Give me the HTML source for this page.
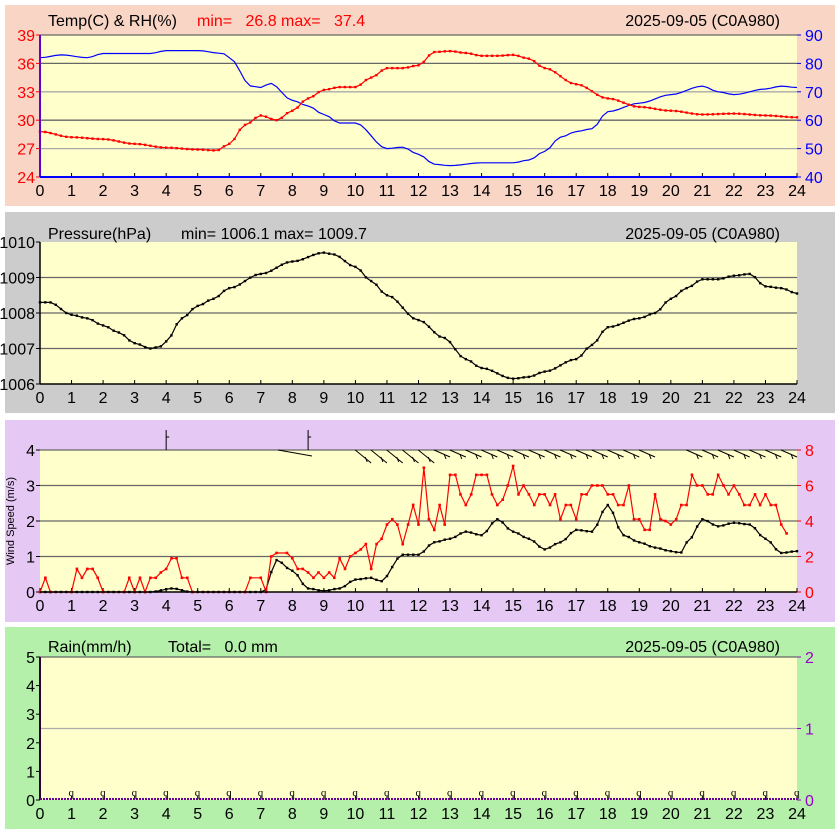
<!DOCTYPE html>
<html><head><meta charset="utf-8"><style>
body{margin:0;background:#fff;width:840px;height:835px;overflow:hidden}
svg{display:block;font-family:"Liberation Sans",sans-serif}
</style></head><body>
<svg id="s" width="840" height="835" xmlns="http://www.w3.org/2000/svg">
<rect width="840" height="835" fill="#fff"/>
<rect x="5" y="5" width="830" height="201" fill="#f9d5c5"/>
<rect x="5" y="212" width="830" height="201" fill="#cccccc"/>
<rect x="5" y="420" width="830" height="202" fill="#e6c8f5"/>
<rect x="5" y="627" width="830" height="202" fill="#b4f0aa"/>
<g id="g"></g>
</svg>
<script>
const g=document.getElementById('g');let h='';
const X0=40,X1=797,W=X1-X0;const xp=t=>X0+t*W/24;
function interp(k,t){for(let i=0;i<k.length-1;i++){if(t>=k[i][0]&&t<=k[i+1][0]){const a=k[i],b=k[i+1];const u=(t-a[0])/(b[0]-a[0]||1);const s=u*u*(3-2*u);return a[1]+(b[1]-a[1])*s;}}return k[k.length-1][1];}
function panel(top,bot,grid,leftLabels,lc,rightLabels,rc){
 h+=`<rect x="${X0}" y="${top}" width="${W}" height="${bot-top}" fill="#ffffcc"/>`;
 grid.forEach(([f,c])=>{const y=bot-(bot-top)*f;h+=`<line x1="${X0}" x2="${X1}" y1="${y}" y2="${y}" stroke="${c}" stroke-width="1.3"/>`;});
 leftLabels.forEach((l,i)=>{const y=bot-(bot-top)*i/(leftLabels.length-1);h+=`<text x="35" y="${y+6}" text-anchor="end" font-size="16" fill="${lc}">${l}</text><line x1="36" x2="40" y1="${y}" y2="${y}" stroke="${lc}"/>`;});
 if(rightLabels)rightLabels.forEach((l,i)=>{const y=bot-(bot-top)*i/(rightLabels.length-1);h+=`<text x="805" y="${y+6}" font-size="16" fill="${rc}">${l}</text><line x1="797" x2="801" y1="${y}" y2="${y}" stroke="${rc}"/>`;});
 for(let i=0;i<=24;i++){h+=`<text x="${xp(i)}" y="${bot+19}" text-anchor="middle" font-size="16" fill="#000">${i}</text><line x1="${xp(i)}" x2="${xp(i)}" y1="${bot}" y2="${bot-4}" stroke="#000"/>`;}
}
function title(y,a,ax,b,bx,bc){h+=`<text x="${ax}" y="${y}" font-size="16">${a}</text><text x="${bx}" y="${y}" font-size="16" fill="${bc}" xml:space="preserve">${b}</text><text x="780" y="${y}" text-anchor="end" font-size="16">2025-09-05 (C0A980)</text>`;}
function series(k,f,col,dots,sw){let pts=[];for(let i=0;i<=144;i++){const t=i/6;const v=interp(k,t);pts.push([xp(t),f(v)]);}
 h+=`<polyline fill="none" stroke="${col}" stroke-width="${sw||1.2}" points="${pts.map(p=>p[0].toFixed(1)+','+p[1].toFixed(1)).join(' ')}"/>`;
 if(dots)pts.forEach(p=>{h+=`<rect x="${p[0]-1.2}" y="${p[1]-1.2}" width="2.4" height="2.4" fill="${col}"/>`;});}
const DK='#666',LG='#aaa';
// panel 1
panel(35,177,[[0.2,LG],[0.4,DK],[0.6,LG],[0.8,DK],[1,DK]],[24,27,30,33,36,39],'#f00',[40,50,60,70,80,90],'#00f');
title(26,'Temp(C) &amp; RH(%)',48,'min=   26.8 max=   37.4',197,'#f00');
const T=[[0,28.8],[1,28.2],[2,28.0],[3,27.5],[4,27.1],[5,26.9],[5.6,26.8],[6,27.5],[6.5,29.5],[7,30.5],[7.5,30.0],[8,31.0],[8.5,32.3],[9,33.2],[9.5,33.5],[10,33.5],[10.5,34.5],[11,35.5],[11.5,35.5],[12,35.8],[12.5,37.2],[13,37.3],[13.5,37.1],[14,36.8],[14.5,36.8],[15,36.9],[15.5,36.5],[16,35.5],[17,33.8],[18,32.3],[19,31.4],[20,31.0],[21,30.6],[22,30.7],[23,30.5],[24,30.3]];
const RH=[[0,82],[0.7,83],[1.5,82],[2,83.5],[3,83.5],[3.5,83.5],[4,84.5],[5,84.5],[5.8,83.5],[6,82],[6.7,72],[7,71.5],[7.3,73],[8,67],[8.5,65],[9,62],[9.5,59],[10,59],[11,50],[11.5,50.5],[12,48],[12.5,44.5],[13,44],[14,45],[15,45],[15.5,46],[16,49],[16.5,54],[17,56],[17.5,57],[18,63],[19,66],[20,69],[21,72],[21.5,70],[22,69],[23,71],[23.5,72],[24,71.5]];
series(RH,v=>177-(v-40)*142/50,'#00f',false,1.2);
series(T,v=>177-(v-24)*142/15,'#f00',true,1.2);
h+=`<line x1="40" x2="40" y1="35" y2="177" stroke="#60c" stroke-width="2"/><line x1="40" x2="797" y1="177" y2="177" stroke="#00f" stroke-width="2"/>`;
// panel 2
panel(242,384,[[0.25,DK],[0.5,DK],[0.75,DK]],[1006,1007,1008,1009,1010],'#000',null);
title(239,'Pressure(hPa)',48,'min= 1006.1 max= 1009.7',181,'#000');
const P=[[0,1008.3],[0.3,1008.3],[1,1007.95],[1.5,1007.85],[2,1007.65],[2.5,1007.45],[3,1007.15],[3.5,1007.0],[3.8,1007.05],[4,1007.2],[4.5,1007.85],[5,1008.2],[5.5,1008.4],[6,1008.7],[7,1009.1],[8,1009.45],[9,1009.7],[9.3,1009.65],[10,1009.3],[10.5,1008.9],[11,1008.5],[12,1007.8],[12.8,1007.3],[13.5,1006.7],[14,1006.45],[15,1006.15],[15.5,1006.2],[16,1006.35],[17,1006.7],[17.5,1007.1],[18,1007.6],[19,1007.85],[19.5,1008.0],[20,1008.4],[20.5,1008.7],[21,1008.95],[21.5,1008.95],[22,1009.05],[22.5,1009.1],[23,1008.75],[23.5,1008.7],[24,1008.55]];
series(P,v=>384-(v-1006)*35.5,'#000',true,1.2);
h+=`<line x1="40" x2="40" y1="242" y2="384" stroke="#000" stroke-width="1.5"/><line x1="40" x2="797" y1="384" y2="384" stroke="#000" stroke-width="1.5"/>`;
// panel 3
panel(450,592,[[0.25,DK],[0.5,DK],[0.75,DK],[1,DK]],[0,1,2,3,4],'#000',[0,2,4,6,8],'#f00');
h+=`<text transform="translate(14,521) rotate(-90)" text-anchor="middle" font-size="11">Wind Speed (m/s)</text>`;
const WA=[[0,0],[3.5,0],[4.2,0.1],[4.8,0],[7.1,0],[7.5,0.9],[8,0.6],[8.5,0.1],[9,0.03],[9.5,0.1],[10,0.35],[10.5,0.4],[10.8,0.3],[11.5,1.05],[12,1.05],[12.5,1.4],[13,1.5],[13.5,1.7],[14,1.6],[14.5,2.05],[15,1.7],[15.5,1.5],[16,1.2],[16.5,1.4],[17,1.75],[17.5,1.7],[18,2.45],[18.5,1.6],[19,1.4],[19.5,1.25],[20,1.15],[20.3,1.1],[20.6,1.5],[21,2.05],[21.5,1.85],[22,1.95],[22.5,1.9],[23,1.5],[23.5,1.1],[24,1.15]];
const WG=[[0,0],[0.17,0.4],[0.33,0],[1,0],[1.17,0.65],[1.33,0.4],[1.5,0.65],[1.67,0.65],[1.83,0.4],[2,0],[2.67,0],[2.83,0.4],[3,0],[3.17,0.4],[3.33,0],[3.5,0.4],[3.67,0.4],[3.83,0.55],[4,0.65],[4.17,0.95],[4.33,0.95],[4.5,0.4],[4.67,0.4],[4.83,0],[6.5,0],[6.67,0.4],[7,0.4],[7.17,0],[7.33,1.0],[7.5,1.1],[7.83,1.1],[8,0.95],[8.17,0.65],[8.33,0.65],[8.5,0.55],[8.67,0.4],[8.83,0.55],[9,0.4],[9.17,0.55],[9.33,0.4],[9.5,0.95],[9.67,0.65],[9.83,1.0],[10,1.1],[10.17,1.2],[10.33,1.35],[10.5,0.65],[10.67,1.35],[10.83,1.5],[11,1.9],[11.17,2.05],[11.33,1.9],[11.5,1.35],[11.67,1.9],[11.83,2.45],[12,1.9],[12.17,3.5],[12.33,2.05],[12.5,1.75],[12.67,2.45],[12.83,1.9],[13,3.3],[13.17,3.3],[13.33,2.75],[13.5,2.45],[13.67,2.75],[13.83,3.3],[14,3.3],[14.17,3.3],[14.33,2.75],[14.5,2.45],[14.67,2.6],[14.83,3.0],[15,3.55],[15.17,2.75],[15.33,3.0],[15.5,2.75],[15.67,2.45],[15.83,2.75],[16,2.75],[16.17,2.45],[16.33,2.75],[16.5,2.05],[16.67,2.45],[16.83,2.45],[17,2.05],[17.17,2.75],[17.33,2.75],[17.5,3.0],[17.67,3.0],[17.83,3.0],[18,2.75],[18.17,2.75],[18.33,2.45],[18.5,2.45],[18.67,3.0],[18.83,2.05],[19,2.05],[19.17,1.75],[19.33,1.75],[19.5,2.75],[19.67,2.05],[19.83,2.0],[20,1.9],[20.17,2.05],[20.33,2.45],[20.5,2.45],[20.67,3.3],[20.83,3.0],[21,3.0],[21.17,2.75],[21.33,2.75],[21.5,3.3],[21.67,3.0],[21.83,2.75],[22,3.0],[22.17,2.75],[22.33,2.45],[22.5,2.45],[22.67,2.75],[22.83,2.45],[23,2.75],[23.17,2.45],[23.33,2.45],[23.5,1.9],[23.67,1.65]];
series(WA,v=>592-v*35.5,'#000',true,1.2);
{let pts=WG.map(p=>[xp(p[0]),592-p[1]*35.5]);h+=`<polyline fill="none" stroke="#f00" stroke-width="1.2" points="${pts.map(p=>p[0].toFixed(1)+','+p[1].toFixed(1)).join(' ')}"/>`;pts.forEach(p=>{h+=`<rect x="${p[0]-1.3}" y="${p[1]-1.3}" width="2.6" height="2.6" fill="#f00"/>`;});}
h+=`<line x1="40" x2="797" y1="592" y2="592" stroke="#000" stroke-width="1.5"/>`;
// barbs
h+=`<line x1="${xp(4)}" x2="${xp(4)}" y1="430" y2="450" stroke="#000"/><line x1="${xp(4)}" x2="${xp(4)+3}" y1="437" y2="437" stroke="#000"/>`;
h+=`<line x1="${xp(8.5)}" x2="${xp(8.5)}" y1="430" y2="450" stroke="#000"/><line x1="${xp(8.5)}" x2="${xp(8.5)+3}" y1="437" y2="437" stroke="#000"/><line x1="278" x2="312" y1="450" y2="456" stroke="#000"/>`;
for(let t=10.5;t<=24;t+=0.5){if(t>19.8&&t<20.7)continue;const x=xp(t);h+=`<line x1="${x-16}" x2="${x}" y1="450" y2="${t<13?463:457}" stroke="#000"/><line x1="${x-6}" x2="${x-4}" y1="${t<13?457:454}" y2="${t<13?462:459}" stroke="#000"/>`;}
// panel 4
panel(657,800,[[0.5,LG],[1,DK]],[0,1,2,3,4,5],'#000',[0,1,2],'#90c');
title(652,'Rain(mm/h)',48,'Total=   0.0 mm',168,'#000');
h+=`<line x1="40" x2="40" y1="657" y2="800" stroke="#303" stroke-width="2"/><line x1="40" x2="797" y1="799" y2="799" stroke="#609" stroke-width="2" stroke-dasharray="2,1"/>`;
for(let i=1;i<=24;i++)h+=`<text x="${xp(i)-3}" y="796" font-size="11" font-family="Liberation Serif">q</text>`;
g.innerHTML=h;
</script>
</body></html>
